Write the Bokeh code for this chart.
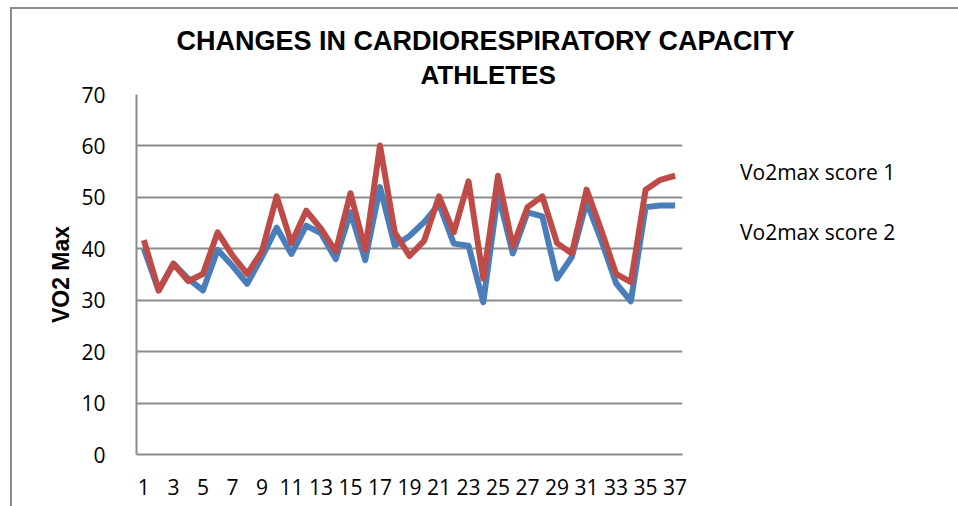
from bokeh.plotting import figure
from bokeh.models import FixedTicker, Range1d, Title, Legend, LegendItem, InlineStyleSheet
from bokeh.embed import file_html
from bokeh.resources import INLINE

athletes = list(range(1, 38))
score1 = [40.0, 31.9, 37.1, 34.2, 31.9, 39.8, 36.7, 33.2, 38.4, 44.1,
          39.0, 44.5, 43.0, 38.0, 47.1, 37.8, 52.0, 40.6, 42.5, 45.2,
          48.7, 41.0, 40.6, 29.6, 50.7, 39.1, 47.1, 46.3, 34.2, 38.4,
          49.1, 41.6, 33.3, 29.8, 48.1, 48.4, 48.4]
score2 = [41.7, 31.9, 37.1, 33.7, 35.1, 43.2, 38.7, 35.1, 39.5, 50.2,
          41.1, 47.4, 43.9, 39.5, 50.8, 39.8, 60.1, 43.2, 38.6, 41.6,
          50.2, 43.2, 53.1, 34.2, 54.2, 40.4, 48.1, 50.2, 41.1, 39.1,
          51.5, 43.6, 35.1, 33.5, 51.5, 53.4, 54.2]
series_names = ["Vo2max score 1", "Vo2max score 2"]
y_ticks = [0, 10, 20, 30, 40, 50, 60, 70]
x_ticks = list(range(1, 38, 2))
title_lines = ["CHANGES IN CARDIORESPIRATORY CAPACITY", "ATHLETES"]
y_label = "VO2 Max"

p = figure(frame_width=546, frame_height=360,
           min_border_left=136, min_border_right=276,
           min_border_top=94, min_border_bottom=52,
           output_backend="svg", toolbar_location=None,
           x_range=Range1d(0.5, 37.5), y_range=Range1d(0, 70))
p.outline_line_color = None
p.background_fill_color = "white"
p.border_fill_color = "white"

grid_col = "#8C8C8C"
p.xgrid.grid_line_color = None
p.ygrid.grid_line_color = grid_col
p.ygrid.grid_line_width = 2
p.ygrid.ticker = FixedTicker(ticks=y_ticks)

p.yaxis.ticker = FixedTicker(ticks=y_ticks)
p.xaxis.ticker = FixedTicker(ticks=x_ticks)
for ax in (p.xaxis, p.yaxis):
    ax.axis_line_color = grid_col
    ax.axis_line_width = 2
    ax.major_tick_line_color = None
    ax.minor_tick_line_color = None
    ax.major_label_text_font = "Open Sans"
    ax.major_label_text_font_size = "21px"
    ax.major_label_text_color = "black"
p.yaxis.major_label_standoff = 25
p.xaxis.major_label_standoff = 18
p.yaxis.axis_label = y_label
p.yaxis.axis_label_text_font = "Liberation Sans"
p.yaxis.axis_label_text_font_style = "bold"
p.yaxis.axis_label_text_font_size = "23px"
p.yaxis.axis_label_text_color = "black"
p.yaxis.axis_label_standoff = 4

r1 = p.line(athletes, score1, line_color="#4A7EBB", line_width=6, line_join="round")
r2 = p.line(athletes, score2, line_color="#BE4B48", line_width=6, line_join="round")

# title lines: first added sits closest to the plot; left-aligned with offsets
title_offsets = [40, 284]
title_standoffs = [-5, 9]
title_sizes = ["27px", "26px"]
for line, off, so, fs in reversed(list(zip(title_lines, title_offsets, title_standoffs, title_sizes))):
    p.add_layout(Title(text=line, align="left", offset=off,
                       text_font="Liberation Sans", text_font_style="bold",
                       text_font_size=fs, text_color="black",
                       standoff=so), "above")

legend = Legend(items=[LegendItem(label=series_names[0], renderers=[r1]),
                       LegendItem(label=series_names[1], renderers=[r2])],
                location=(58, 207), orientation="vertical",
                glyph_width=0, glyph_height=30, label_height=30,
                label_standoff=0, spacing=30, padding=0, margin=0,
                border_line_color=None, background_fill_alpha=0,
                label_text_font="Open Sans", label_text_font_size="21px",
                label_text_color="black")
p.add_layout(legend, "right")

p.stylesheets = [InlineStyleSheet(css=""":host::after {
  content: ""; position: absolute; left: 10px; top: 7px; right: -20px; bottom: -20px;
  border-left: 2px solid #8C8C8C; border-top: 2px solid #8C8C8C;
  pointer-events: none; z-index: 10;
}""")]

open("out.html", "w").write(file_html(p, INLINE))
